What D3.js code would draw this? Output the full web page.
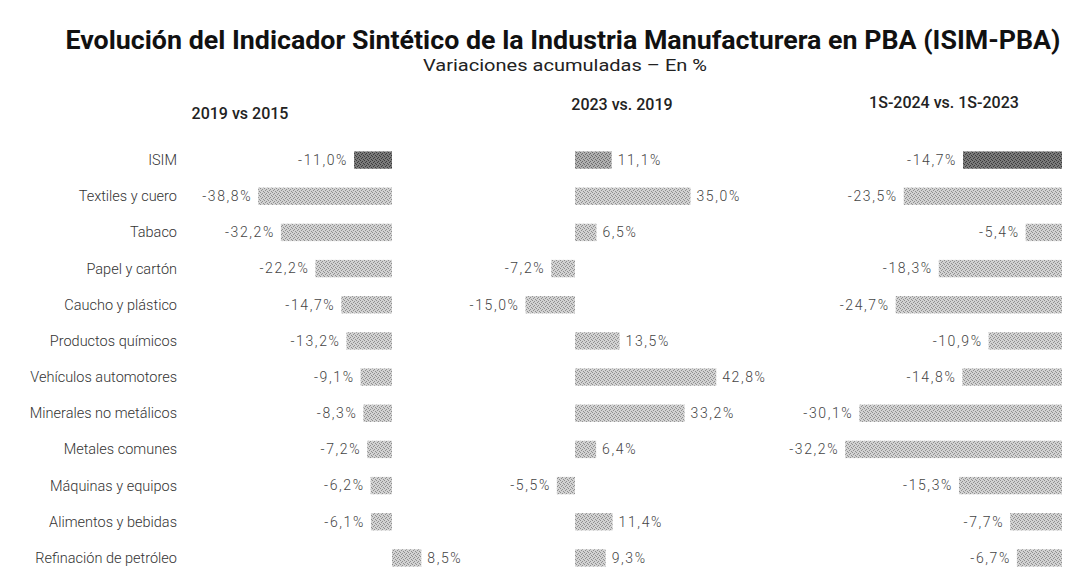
<!DOCTYPE html>
<html>
<head>
<meta charset="utf-8">
<script src="https://cdn.jsdelivr.net/npm/d3@7"></script>
<style>
  body { margin: 0; background: #fff; }
  svg { display: block; }
  text { font-family: Roboto, "Open Sans", sans-serif; }
  .title { font-weight: 700; fill: #111; }
  .subtitle { font-weight: 400; fill: #222; }
  .panel-title { font-weight: 500; fill: #222; }
  .cat { font-weight: 300; fill: #333; }
  .val { font-weight: 300; fill: #444; letter-spacing: 1.6px; }
</style>
</head>
<body>
<svg id="chart" width="1067" height="570"></svg>
<script>
// categories (rows, top to bottom)
var categories = ["ISIM", "Textiles y cuero", "Tabaco", "Papel y cartón", "Caucho y plástico",
  "Productos químicos", "Vehículos automotores", "Minerales no metálicos", "Metales comunes",
  "Máquinas y equipos", "Alimentos y bebidas", "Refinación de petróleo"];

// variaciones acumuladas, en %
var v2019vs2015 = [-11.0, -38.8, -32.2, -22.2, -14.7, -13.2, -9.1, -8.3, -7.2, -6.2, -6.1, 8.5];
var v2023vs2019 = [11.1, 35.0, 6.5, -7.2, -15.0, 13.5, 42.8, 33.2, 6.4, -5.5, 11.4, 9.3];
var v1s2024vs1s2023 = [-14.7, -23.5, -5.4, -18.3, -24.7, -10.9, -14.8, -30.1, -32.2, -15.3, -7.7, -6.7];

var panelTitles = ["2019 vs 2015", "2023 vs. 2019", "1S-2024 vs. 1S-2023"];

var svg = d3.select("#chart");
var defs = svg.append("defs");

// dithered grey fills, like the scanned original
function makePattern(id, base, dot) {
  var p = defs.append("pattern").attr("id", id)
    .attr("patternUnits", "userSpaceOnUse").attr("width", 4).attr("height", 4);
  p.append("rect").attr("width", 4).attr("height", 4).attr("fill", base);
  [[0, 0], [2, 1], [1, 2], [3, 3]].forEach(function (d) {
    p.append("rect").attr("x", d[0]).attr("y", d[1]).attr("width", 1).attr("height", 1).attr("fill", dot);
  });
}
makePattern("light", "#d2d2d2", "#8f8f8f");
makePattern("mid", "#b0b0b0", "#6a6a6a");
makePattern("dark", "#7a7a7a", "#3a3a3a");

var loc = d3.formatLocale({decimal: ",", thousands: ".", grouping: [3], currency: ["", ""], minus: "-"});
var fmt = loc.format(".1f");

svg.append("text").attr("class", "title")
  .attr("x", 563).attr("y", 49).attr("text-anchor", "middle")
  .attr("font-size", 26)
  .attr("textLength", 995).attr("lengthAdjust", "spacingAndGlyphs")
  .text("Evolución del Indicador Sintético de la Industria Manufacturera en PBA (ISIM-PBA)");

svg.append("text").attr("class", "subtitle")
  .attr("x", 565).attr("y", 71).attr("text-anchor", "middle")
  .attr("font-size", 17)
  .attr("textLength", 284).attr("lengthAdjust", "spacingAndGlyphs")
  .text("Variaciones acumuladas – En %");

var y = d3.scaleBand().domain(categories).range([142, 576]).paddingInner(0.52).paddingOuter(0.26);

// category labels
svg.append("g").selectAll("text").data(categories).join("text")
  .attr("class", "cat")
  .attr("x", 177)
  .attr("y", function (d) { return y(d) + y.bandwidth() / 2; })
  .attr("dy", "0.35em")
  .attr("text-anchor", "end")
  .attr("font-size", 14.5)
  .text(function (d) { return d; });

var panels = [
  {title: panelTitles[0], values: v2019vs2015, domain: [-40, 0], range: [254, 392], tx: 240, ty: 119, isim: "dark"},
  {title: panelTitles[1], values: v2023vs2019, domain: [0, 40], range: [575, 707], tx: 622, ty: 110, isim: "mid"},
  {title: panelTitles[2], values: v1s2024vs1s2023, domain: [-30, 0], range: [860, 1062], tx: 944, ty: 108, isim: "dark"}
];

panels.forEach(function (p) {
  var x = d3.scaleLinear().domain(p.domain).range(p.range);
  var g = svg.append("g");
  var rows = categories.map(function (c, i) { return {cat: c, v: p.values[i], i: i}; });

  g.append("text").attr("class", "panel-title")
    .attr("x", p.tx).attr("y", p.ty).attr("text-anchor", "middle")
    .attr("font-size", 16)
    .text(p.title);

  g.selectAll("rect").data(rows).join("rect")
    .attr("x", function (d) { return x(Math.min(0, d.v)); })
    .attr("y", function (d) { return y(d.cat); })
    .attr("width", function (d) { return Math.abs(x(d.v) - x(0)); })
    .attr("height", y.bandwidth())
    .attr("fill", function (d) { return d.i === 0 ? "url(#" + p.isim + ")" : "url(#light)"; });

  g.selectAll("text.val").data(rows).join("text")
    .attr("class", "val")
    .attr("x", function (d) { return d.v < 0 ? x(d.v) - 6 : x(d.v) + 6; })
    .attr("y", function (d) { return y(d.cat) + y.bandwidth() / 2; })
    .attr("dy", "0.35em")
    .attr("text-anchor", function (d) { return d.v < 0 ? "end" : "start"; })
    .attr("font-size", 14)
    .text(function (d) { return fmt(d.v) + "%"; });
});
</script>
</body>
</html>
